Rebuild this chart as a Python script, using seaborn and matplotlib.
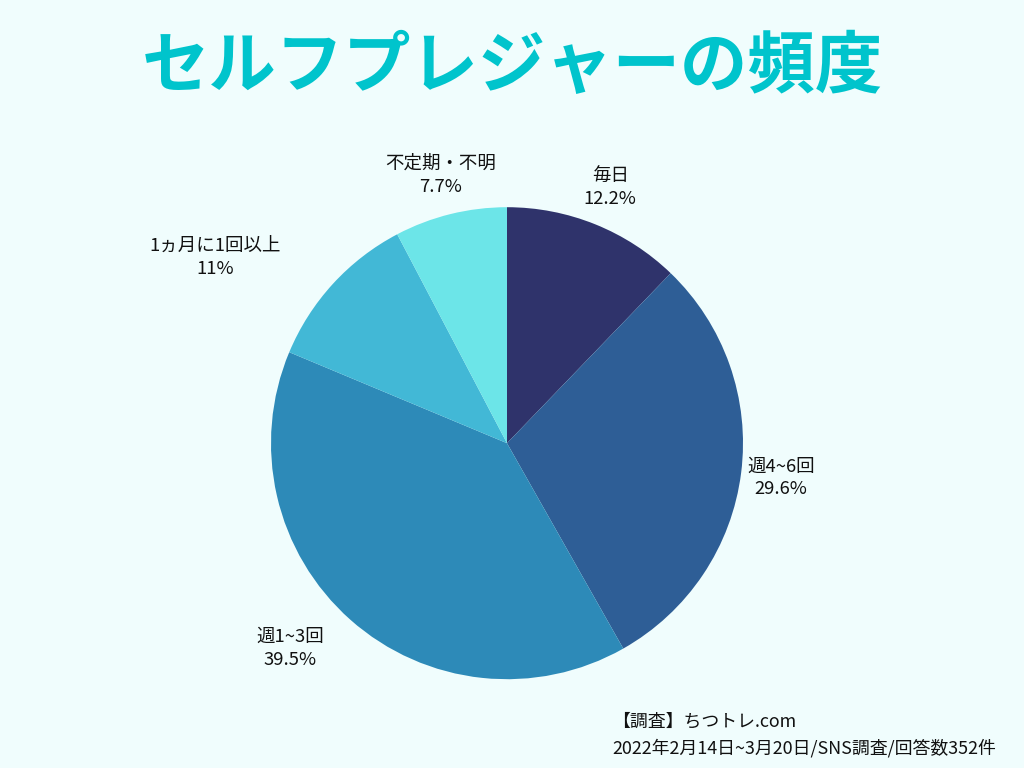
import numpy as np
import seaborn as sns
import matplotlib.pyplot as plt

# data
categories = ["毎日", "週4~6回", "週1~3回", "1ヵ月に1回以上", "不定期・不明"]
shares = [12.2, 29.6, 39.5, 11, 7.7]
share_labels = ["12.2%", "29.6%", "39.5%", "11%", "7.7%"]
colors = ["#2f336b", "#2e5e96", "#2d8ab8", "#42b8d6", "#6ce5e8"]

title = "セルフプレジャーの頻度"
footer = ["【調査】ちつトレ.com", "2022年2月14日~3月20日/SNS調査/回答数352件"]

bg = "#f0fdfd"
sns.set_theme(style="white")
plt.rcParams["font.family"] = ["Noto Sans CJK JP", "DejaVu Sans"]

fig = plt.figure(figsize=(10.24, 7.68), dpi=100, facecolor=bg)
# axes placed so that one data unit = 236 px, pie centre at (507, 443)
ax = fig.add_axes([129.4 / 1024, 18 / 768, 755.2 / 1024, 684.4 / 768])
ax.set_facecolor(bg)

text_labels = [f"{c}\n{p}" for c, p in zip(categories, share_labels)]
wedges, texts = ax.pie(shares, colors=colors, startangle=90, counterclock=False,
                       labels=text_labels, labeldistance=1.17,
                       wedgeprops=dict(linewidth=0),
                       textprops=dict(fontsize=13.3, color="#111111",
                                      linespacing=1.35))
# label distance and angular nudge (deg, clockwise) per slice
label_dist = [1.17, 1.17, 1.265, 1.465, 1.17]
label_nudge = [0, 0, 5, -10, 0]
for w, t, r, d in zip(wedges, texts, label_dist, label_nudge):
    ang = np.deg2rad((w.theta1 + w.theta2) / 2 - d)
    t.set_position((r * np.cos(ang), r * np.sin(ang)))
    t.set_ha("center")
    t.set_va("center")

ax.set_xlim(-1.6, 1.6)
ax.set_ylim(-1.3, 1.6)
ax.set_aspect("equal")
ax.axis("off")

fig.text(0.5, 1 - 68 / 768, title, ha="center", va="center", fontsize=48.5,
         fontweight="bold", color="#00c4cc")
fig.text(612 / 1024, 1 - 722 / 768, footer[0], ha="left", va="center",
         fontsize=12.9, color="#111111")
fig.text(612 / 1024, 1 - 748 / 768, footer[1], ha="left", va="center",
         fontsize=12.9, color="#111111")

fig.savefig("out.png", dpi=100, facecolor=bg)
